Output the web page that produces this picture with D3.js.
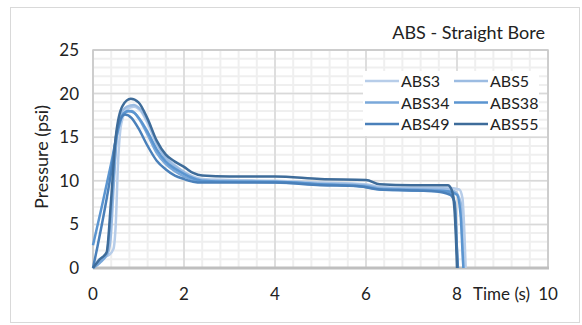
<!DOCTYPE html>
<html>
<head>
<meta charset="utf-8">
<script src="https://cdn.jsdelivr.net/npm/d3@7/dist/d3.min.js"></script>
<style>
  html, body { margin: 0; padding: 0; background: #fff; }
  svg { display: block; font-family: Lato, "Open Sans", sans-serif; }
</style>
</head>
<body>
<svg id="chart" width="582" height="325"></svg>
<script>
// Pressure traces (psi) over time (s) for each ABS straight-bore run
const seriesNames = ["ABS3", "ABS5", "ABS34", "ABS38", "ABS49", "ABS55"];
const seriesColors = ["#b7cde9", "#9cbce2", "#7aa8da", "#5b95d0", "#4a80ba", "#3e6c9a"];

const abs3Time = [0, 0.1, 0.2, 0.35, 0.45, 0.5, 0.55, 0.62, 0.75, 0.9, 1.05, 1.2, 1.4, 1.6, 1.8, 2.0, 2.2, 2.4, 3, 4, 5, 6, 6.3, 7, 7.8, 8.05, 8.12, 8.17, 8.19];
const abs3Psi  = [0, 0.8, 1.2, 1.5, 2.2, 5, 12, 16.5, 18.2, 18.5, 18.0, 16.6, 14.2, 12.7, 11.8, 11.0, 10.5, 10.2, 10.1, 10.0, 9.8, 9.6, 9.3, 9.2, 9.2, 9.0, 8.0, 3, 0];

const abs5Time = [0, 0.1, 0.2, 0.3, 0.38, 0.45, 0.52, 0.6, 0.75, 0.9, 1.0, 1.2, 1.4, 1.6, 1.8, 2.0, 2.2, 2.4, 3, 4, 5, 6, 6.3, 7, 7.7, 7.95, 8.08, 8.12, 8.14];
const abs5Psi  = [0, 0.5, 1.0, 1.4, 3, 9, 15, 17.5, 18.5, 18.7, 18.4, 16.9, 14.4, 12.6, 11.7, 11.0, 10.4, 10.1, 10.0, 9.9, 9.7, 9.5, 9.2, 9.1, 9.1, 8.8, 7.5, 3, 0];

const abs34Time = [0, 0.15, 0.3, 0.42, 0.52, 0.62, 0.72, 0.85, 1.0, 1.2, 1.4, 1.6, 1.8, 2.0, 2.2, 2.4, 3, 4, 5, 6, 6.3, 7, 7.7, 7.9, 7.97, 8.0, 8.02];
const abs34Psi  = [0, 0.6, 1.6, 8, 15, 17.4, 17.9, 18.0, 17.2, 15.3, 13.2, 11.9, 11.1, 10.5, 10.1, 9.9, 9.9, 9.8, 9.6, 9.4, 9.1, 9.0, 8.9, 8.5, 6, 2, 0];

const abs38Time = [0, 0.2, 0.4, 0.55, 0.65, 0.78, 0.9, 1.05, 1.2, 1.4, 1.6, 1.8, 2.0, 2.2, 2.4, 3, 4, 5, 6, 6.3, 7, 7.8, 8.0, 8.08, 8.12, 8.14];
const abs38Psi  = [2.6, 7.2, 12, 15.8, 17.5, 18.0, 17.8, 16.9, 15.6, 13.6, 12.2, 11.4, 10.8, 10.3, 10.0, 9.9, 9.9, 9.6, 9.3, 9.0, 8.9, 8.8, 8.4, 6, 2, 0];

const abs49Time = [0, 0.1, 0.25, 0.4, 0.55, 0.7, 0.85, 1.0, 1.2, 1.4, 1.6, 1.8, 2.0, 2.2, 2.4, 3, 4, 5, 5.8, 6.3, 7, 7.5, 7.85, 7.95, 7.99, 8.02];
const abs49Psi  = [0, 2.5, 6.5, 11, 16.3, 17.6, 17.2, 16.0, 14.0, 12.3, 11.3, 10.6, 10.2, 9.9, 9.8, 9.8, 9.8, 9.5, 9.4, 9.0, 8.9, 8.8, 8.4, 7.5, 3, 0];

const abs55Time = [0, 0.15, 0.3, 0.4, 0.5, 0.65, 0.83, 1.0, 1.2, 1.4, 1.6, 1.8, 2.0, 2.2, 2.4, 3, 4, 5, 6, 6.3, 7, 7.8, 7.88, 7.94, 7.98, 8.0];
const abs55Psi  = [0, 1.0, 1.8, 8, 15, 18.6, 19.4, 19.0, 17.1, 14.6, 13.0, 12.2, 11.6, 10.9, 10.6, 10.5, 10.5, 10.2, 10.1, 9.6, 9.5, 9.5, 9.0, 7, 3, 0];

const seriesTimes = [abs3Time, abs5Time, abs34Time, abs38Time, abs49Time, abs55Time];
const seriesPsi = [abs3Psi, abs5Psi, abs34Psi, abs38Psi, abs49Psi, abs55Psi];

const xTicks = [0, 2, 4, 6, 8, 10];
const yTicks = [0, 5, 10, 15, 20, 25];
const chartTitle = "ABS - Straight Bore";
const xTitle = "Time (s)";
const yTitle = "Pressure (psi)";

const svg = d3.select("#chart");
const plot = { left: 93, right: 548, top: 50, bottom: 268 };

const x = d3.scaleLinear().domain([0, 10]).range([plot.left, plot.right]);
const y = d3.scaleLinear().domain([0, 25]).range([plot.bottom, plot.top]);

// Outer chart frame
svg.append("rect")
  .attr("x", 10.5).attr("y", 7.5).attr("width", 569).attr("height", 315)
  .attr("fill", "#fff").attr("stroke", "#d9d9d9").attr("stroke-width", 1);

// Minor grid
const g = svg.append("g");
g.selectAll("line.minx").data(d3.range(0, 10.001, 0.4)).join("line")
  .attr("x1", d => x(d)).attr("x2", d => x(d))
  .attr("y1", plot.top).attr("y2", plot.bottom)
  .attr("stroke", "#efefef").attr("stroke-width", 2);
g.selectAll("line.miny").data(d3.range(0, 25.001, 1)).join("line")
  .attr("x1", plot.left).attr("x2", plot.right)
  .attr("y1", d => y(d)).attr("y2", d => y(d))
  .attr("stroke", "#efefef").attr("stroke-width", 2);

// Major grid
g.selectAll("line.majx").data(xTicks).join("line")
  .attr("x1", d => x(d)).attr("x2", d => x(d))
  .attr("y1", plot.top).attr("y2", plot.bottom)
  .attr("stroke", "#d9d9d9").attr("stroke-width", 1.5);
g.selectAll("line.majy").data(yTicks).join("line")
  .attr("x1", plot.left).attr("x2", plot.right)
  .attr("y1", d => y(d)).attr("y2", d => y(d))
  .attr("stroke", "#d9d9d9").attr("stroke-width", 1.5);

// Plot area border
svg.append("rect")
  .attr("x", plot.left).attr("y", plot.top)
  .attr("width", plot.right - plot.left).attr("height", plot.bottom - plot.top)
  .attr("fill", "none").attr("stroke", "#c8c8c8").attr("stroke-width", 1.5);

// Horizontal axis line at zero
svg.append("line")
  .attr("x1", plot.left).attr("x2", plot.right + 1)
  .attr("y1", y(0)).attr("y2", y(0))
  .attr("stroke", "#bfbfbf").attr("stroke-width", 3);

// Series lines
const line = d3.line()
  .x(d => x(d[0])).y(d => y(d[1]))
  .curve(d3.curveMonotoneX);

seriesNames.forEach((name, i) => {
  const pts = seriesTimes[i].map((t, k) => [t, seriesPsi[i][k]]);
  svg.append("path")
    .datum(pts)
    .attr("d", line)
    .attr("fill", "none")
    .attr("stroke", seriesColors[i])
    .attr("stroke-width", 2.5)
    .attr("stroke-linejoin", "round");
});

// Axis tick labels
svg.selectAll("text.ytick").data(yTicks).join("text")
  .attr("x", 79).attr("y", d => y(d) + 6)
  .attr("text-anchor", "end")
  .attr("font-size", 17).attr("fill", "#222")
  .text(d => d);

svg.selectAll("text.xtick").data(xTicks).join("text")
  .attr("x", d => x(d)).attr("y", 300)
  .attr("text-anchor", "middle")
  .attr("font-size", 17).attr("fill", "#222")
  .text(d => d);

// Axis titles
svg.append("text")
  .attr("x", 473).attr("y", 300)
  .attr("font-size", 17).attr("fill", "#222")
  .text(xTitle);

svg.append("text")
  .attr("transform", "translate(48,157) rotate(-90)")
  .attr("text-anchor", "middle")
  .attr("font-size", 18).attr("fill", "#222")
  .text(yTitle);

// Chart title
svg.append("text")
  .attr("x", 545).attr("y", 39)
  .attr("text-anchor", "end")
  .attr("font-size", 18).attr("fill", "#222")
  .text(chartTitle);

// Legend
const legend = svg.append("g");
legend.append("rect")
  .attr("x", 363).attr("y", 71).attr("width", 176).attr("height", 65)
  .attr("fill", "#fff");
seriesNames.forEach((name, i) => {
  const col = i % 2, row = Math.floor(i / 2);
  const lx = col === 0 ? 365 : 454;
  const ly = 81 + row * 21.5;
  legend.append("line")
    .attr("x1", lx).attr("x2", lx + 34)
    .attr("y1", ly).attr("y2", ly)
    .attr("stroke", seriesColors[i]).attr("stroke-width", 2.5);
  legend.append("text")
    .attr("x", lx + 36).attr("y", ly + 6)
    .attr("font-size", 16).attr("fill", "#222")
    .text(name);
});
</script>
</body>
</html>
